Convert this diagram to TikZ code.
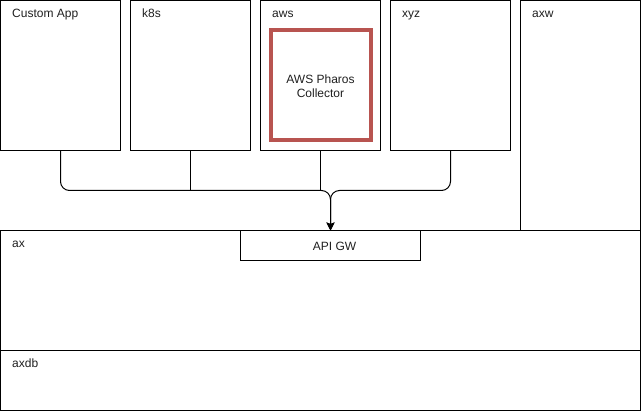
\documentclass[tikz,border=0pt]{standalone}
\usepackage{fontspec}
\setmainfont{Liberation Sans}
\usetikzlibrary{arrows.meta}
\definecolor{pharosred}{HTML}{B85450}
\definecolor{txt}{HTML}{202020}
\begin{document}
\begin{tikzpicture}[x=1pt,y=-1pt,
  box/.style={draw=black, line width=1pt, fill=white, rectangle, inner sep=0pt, outer sep=0pt, anchor=north west},
  lbl/.style={anchor=base west, inner sep=0pt, text=txt, font=\fontsize{12pt}{14pt}\selectfont},
  ctr/.style={align=center, inner sep=0pt, text=txt, font=\fontsize{12pt}{14pt}\selectfont},
  conn/.style={draw=black, line width=1pt},
  arr/.style={-{Stealth[length=8pt,width=8pt,inset=1.5pt]}}
]
\useasboundingbox (0,0) rectangle (641,411);
% top boxes
\node[box, minimum width=120pt, minimum height=150pt] (app) at (0.5,0.5) {};
\node[box, minimum width=120pt, minimum height=150pt] (k8s) at (130.5,0.5) {};
\node[box, minimum width=120pt, minimum height=150pt] (aws) at (260.5,0.5) {};
\node[box, minimum width=120pt, minimum height=150pt] (xyz) at (390.5,0.5) {};
\node[box, minimum width=120pt, minimum height=230pt] (axw) at (520.5,0.5) {};
% bottom boxes
\node[box, minimum width=640pt, minimum height=120pt] (ax) at (0.5,230.5) {};
\node[box, minimum width=640pt, minimum height=60pt] (axdb) at (0.5,350.5) {};
\node[box, minimum width=180pt, minimum height=30pt] (api) at (240.5,230.5) {};
% pharos
\node[draw=pharosred, line width=4pt, fill=white, rectangle, inner sep=0pt, outer sep=0pt,
  minimum width=100pt, minimum height=110pt] (pharos) at (320.5,85) {};
\node[ctr] (pharostxt) at (320.5,86) {AWS Pharos\\Collector};
% labels
\node[lbl] (appl) at (12,18) {Custom App};
\node[lbl] (k8sl) at (142,18) {k8s};
\node[lbl] (awsl) at (272,18) {aws};
\node[lbl] (xyzl) at (402,18) {xyz};
\node[lbl] (axwl) at (532,18) {axw};
\node[lbl] (axl) at (12,248) {ax};
\node[lbl] (axdbl) at (12,368) {axdb};
\node[ctr] (apil) at (334.5,246) {API GW};
% connectors
\coordinate (j) at (330.5,190.5);
\draw[conn, arr, rounded corners=9pt] (app.south) |- (j) -- (api.north);
\draw[conn, arr, rounded corners=9pt] (xyz.south) |- (j) -- (api.north);
\draw[conn] (k8s.south) -- (k8s.south |- j);
\draw[conn] (aws.south) -- (aws.south |- j);
\end{tikzpicture}
\end{document}
